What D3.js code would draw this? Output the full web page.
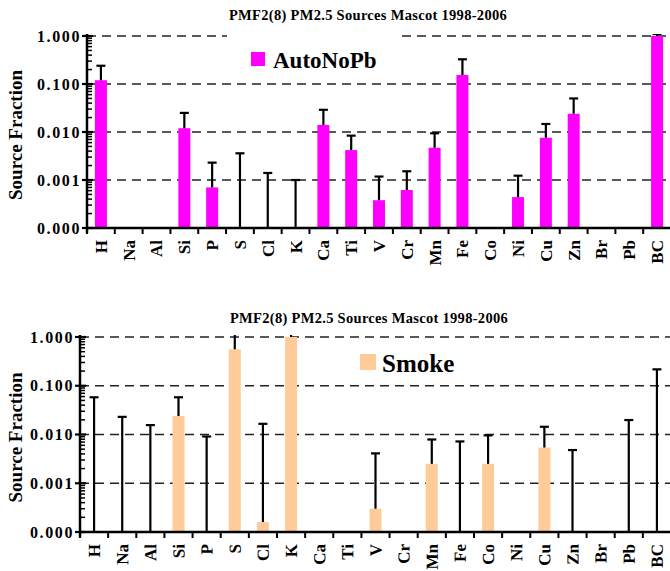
<!DOCTYPE html>
<html>
<head>
<meta charset="utf-8">
<script src="https://cdn.jsdelivr.net/npm/d3@7"></script>
<style>
  body { margin: 0; background: #fff; }
  svg { display: block; }
  text { font-family: "Liberation Serif", "Times New Roman", serif; font-weight: bold; fill: #000; }
</style>
</head>
<body>
<svg id="chart" width="670" height="571"></svg>
<script>
// data
const elements = ["H","Na","Al","Si","P","S","Cl","K","Ca","Ti","V","Cr","Mn","Fe","Co","Ni","Cu","Zn","Br","Pb","BC"];

const autoNoPb    = [0.12, 0, 0, 0.012, 0.0007, 0, 0, 0, 0.014, 0.0042, 0.00038, 0.00062, 0.0047, 0.154, 0, 0.00044, 0.0076, 0.024, 0, 0, 1.0];
const autoNoPbErr = [0.12, 0, 0, 0.013, 0.0016, 0.0036, 0.0014, 0.001, 0.015, 0.0042, 0.0008, 0.0009, 0.0047, 0.173, 0, 0.00079, 0.0071, 0.026, 0, 0, 0.1];

const smoke    = [0, 0, 0, 0.024, 0, 0.56, 0.00016, 1.0, 0, 0, 0.0003, 0, 0.0025, 0, 0.0025, 0, 0.0054, 0, 0, 0, 0];
const smokeErr = [0.058, 0.023, 0.0156, 0.034, 0.0091, 1.0, 0.0164, 0.5, 0, 0, 0.0038, 0, 0.0054, 0.0072, 0.0071, 0, 0.009, 0.0048, 0, 0.0198, 0.217];

const yTicks = [1, 0.1, 0.01, 0.001, 0.0001];
const title = "PMF2(8) PM2.5 Sources Mascot 1998-2006";

const svg = d3.select("#chart");

function drawPanel(p) {
  const g = svg.append("g");
  const x = d3.scaleBand().domain(elements).range([p.x0, p.x1]).paddingInner(0).paddingOuter(0);
  const y = d3.scaleLog().domain([1e-4, 1]).range([p.y1, p.y0]);
  const fmt = d3.format(".3f");

  // title
  g.append("text")
    .attr("x", p.titleX).attr("y", p.titleY)
    .attr("text-anchor", "middle")
    .attr("font-size", 14.5)
    .attr("letter-spacing", 0.3)
    .text(title);

  // dashed gridlines
  g.append("g").selectAll("line")
    .data(yTicks.filter(d => d > 1e-4))
    .join("line")
    .attr("x1", p.x0).attr("x2", 670)
    .attr("y1", d => y(d)).attr("y2", d => y(d))
    .attr("stroke", "#222").attr("stroke-width", 1.3)
    .attr("stroke-dasharray", "9,6");

  // legend box hides gridline
  if (p.legendBox) {
    g.append("rect")
      .attr("x", p.legendBox[0]).attr("y", p.legendBox[1])
      .attr("width", p.legendBox[2]).attr("height", p.legendBox[3])
      .attr("fill", "#fff");
  }

  const clipId = "clip" + p.name;
  svg.append("clipPath").attr("id", clipId)
    .append("rect").attr("x", p.x0).attr("y", p.y0 - 2)
    .attr("width", 670 - p.x0).attr("height", p.y1 - p.y0 + 2);

  const marks = g.append("g").attr("clip-path", `url(#${clipId})`);
  const bw = 12;
  const rows = elements.map((e, i) => ({ e, v: p.values[i], err: p.errors[i] }));

  marks.selectAll("rect.bar")
    .data(rows.filter(d => d.v > 1e-4))
    .join("rect")
    .attr("class", "bar")
    .attr("x", d => x(d.e) + x.bandwidth() / 2 - bw / 2)
    .attr("width", bw)
    .attr("y", d => y(d.v))
    .attr("height", d => p.y1 - y(d.v))
    .attr("fill", p.color);

  // error bars (upper only)
  const eb = marks.selectAll("g.err")
    .data(rows.filter(d => d.err > 0))
    .join("g").attr("class", "err");
  const cx = d => x(d.e) + x.bandwidth() / 2;
  const lo = d => y(Math.max(d.v, 1e-4));
  const hi = d => y(Math.max(d.v, 0) + d.err);
  eb.append("line")
    .attr("x1", cx).attr("x2", cx)
    .attr("y1", lo).attr("y2", hi)
    .attr("stroke", "#000").attr("stroke-width", 2.2);
  eb.append("line")
    .attr("x1", d => cx(d) - 4.5).attr("x2", d => cx(d) + 4.5)
    .attr("y1", hi).attr("y2", hi)
    .attr("stroke", "#000").attr("stroke-width", 2.2);

  // y axis
  const ax = g.append("g");
  ax.append("line")
    .attr("x1", p.x0).attr("x2", p.x0)
    .attr("y1", p.y0 - 2).attr("y2", p.y1 + 5)
    .attr("stroke", "#000").attr("stroke-width", 2.5);
  const minor = [];
  for (let e = -4; e < 0; e++) for (let m = 2; m <= 9; m++) minor.push(m * Math.pow(10, e));
  ax.selectAll("line.minor").data(minor).join("line")
    .attr("class", "minor")
    .attr("x1", p.x0).attr("x2", p.x0 + 5)
    .attr("y1", d => y(d)).attr("y2", d => y(d))
    .attr("stroke", "#000").attr("stroke-width", 1.5);
  ax.selectAll("line.major").data(yTicks).join("line")
    .attr("class", "major")
    .attr("x1", p.x0 - 5).attr("x2", p.x0 + 6)
    .attr("y1", d => y(d)).attr("y2", d => y(d))
    .attr("stroke", "#000").attr("stroke-width", 2.2);
  ax.selectAll("text.tick").data(yTicks).join("text")
    .attr("class", "tick")
    .attr("x", p.x0 - 6).attr("y", d => y(d))
    .attr("dy", "0.35em")
    .attr("text-anchor", "end")
    .attr("font-size", 16)
    .attr("letter-spacing", 1.6)
    .text(d => fmt(d));

  // y label
  g.append("text")
    .attr("transform", `translate(${p.labelX},${(p.y0 + p.y1) / 2 + 3}) rotate(-90)`)
    .attr("text-anchor", "middle")
    .attr("dy", "0.35em")
    .attr("font-size", 19)
    .text("Source Fraction");

  // x axis
  g.append("line")
    .attr("x1", p.x0).attr("x2", 670)
    .attr("y1", p.y1).attr("y2", p.y1)
    .attr("stroke", "#000").attr("stroke-width", 2.5);
  g.selectAll("line.xt").data(d3.range(elements.length)).join("line")
    .attr("class", "xt")
    .attr("x1", i => x(elements[i])).attr("x2", i => x(elements[i]))
    .attr("y1", p.y1).attr("y2", p.y1 + 6)
    .attr("stroke", "#000").attr("stroke-width", 2);

  // element labels, reading bottom-up under each band
  const lx = d => x(d) + x.bandwidth() / 2;
  const ly = p.y1 + 12;
  const turn = p.labelTurn === "matrix"
    ? d => `matrix(0,-1,1,0,${lx(d)},${ly})`
    : d => `translate(${lx(d)},${ly}) rotate(-89.9)`;
  g.append("g").selectAll("text")
    .data(elements)
    .join("text")
    .attr("font-size", 17)
    .attr("text-anchor", "end")
    .attr("dy", "0.35em")
    .attr("transform", turn)
    .text(d => d);

  // legend
  g.append("rect")
    .attr("x", p.legend[0]).attr("y", p.legend[1])
    .attr("width", p.legend[2]).attr("height", p.legend[2])
    .attr("fill", p.color);
  g.append("text")
    .attr("x", p.legend[3]).attr("y", p.legend[4])
    .attr("font-size", p.legendFont)
    .text(p.name);
}

drawPanel({
  name: "AutoNoPb", values: autoNoPb, errors: autoNoPbErr, color: "#ff00ff",
  x0: 87, x1: 671, y0: 36, y1: 228,
  titleX: 368, titleY: 20, labelX: 15, labelTurn: "matrix",
  legendBox: [227, 29, 170, 48],
  legend: [251, 52, 14, 273, 67.5], legendFont: 23
});

drawPanel({
  name: "Smoke", values: smoke, errors: smokeErr, color: "#ffcc99",
  x0: 80, x1: 671, y0: 337, y1: 532,
  titleX: 369, titleY: 323, labelX: 15, labelTurn: "rotate",
  legendBox: null,
  legend: [360, 354, 16, 382, 371.5], legendFont: 25
});
</script>
</body>
</html>
